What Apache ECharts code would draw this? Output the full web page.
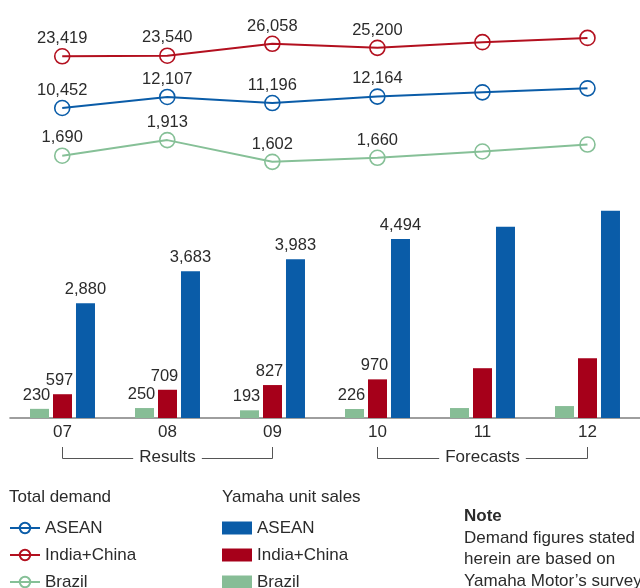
<!DOCTYPE html>
<html>
<head>
<meta charset="utf-8">
<script src="https://cdn.jsdelivr.net/npm/echarts@6/dist/echarts.min.js"></script>
<style>
  html, body { margin: 0; padding: 0; background: #fff; }
  #chart { width: 640px; height: 588px; }
</style>
</head>
<body>
<div id="chart"></div>
<script>
// ---- data ----
const categories = ['07', '08', '09', '10', '11', '12'];
const demandASEAN = [10452, 12107, 11196, 12164, 12800, 13400];
const demandIndiaChina = [23419, 23540, 26058, 25200, 26400, 27300];
const demandBrazil = [1690, 1913, 1602, 1660, 1750, 1850];
const salesASEAN = [2880, 3683, 3983, 4494, 4800, 5200];
const salesIndiaChina = [597, 709, 827, 970, 1250, 1500];
const salesBrazil = [230, 250, 193, 226, 250, 300];
const labeledCount = 4;
const regionNames = ['ASEAN', 'India+China', 'Brazil'];
const periodLabels = ['Results', 'Forecasts'];
const noteLines = ['Demand figures stated', 'herein are based on', 'Yamaha Motor\u2019s survey'];

// ---- styles ----
const FONT = '"Liberation Sans", Arial, Helvetica, sans-serif';
const TXT = '#2b2b2b';
const FS = 17;        // general text size
const FS_VAL = 16.5;  // value label size
const C_BLUE = '#0a5ca8';
const C_RED_LINE = '#b3101f';
const C_RED = '#a6001a';
const C_GREEN_LINE = '#86c097';
const C_GREEN = '#87bd96';

const fmt = v => Number(v).toLocaleString('en-US');
const lineLabel = {
  show: true, position: 'top', distance: 1, color: TXT, fontSize: FS_VAL, fontFamily: FONT,
  formatter: p => p.dataIndex < labeledCount ? fmt(p.value) : ''
};
const barLabel = (dx) => ({
  show: true, position: 'top', distance: 5, color: TXT, fontSize: FS_VAL, fontFamily: FONT,
  offset: [dx, 0],
  formatter: p => p.dataIndex < labeledCount ? fmt(p.value) : ''
});

function lineSeries(name, data, color, yIdx) {
  return {
    type: 'line', name: 'demand:' + name, data: data,
    xAxisIndex: 0, yAxisIndex: yIdx,
    symbol: 'circle', symbolSize: 15,
    lineStyle: { color: color, width: 2 },
    itemStyle: { color: 'rgba(255,255,255,0)', borderColor: color, borderWidth: 1.6 },
    label: lineLabel,
    emphasis: { disabled: true },
    z: 3
  };
}
function barSeries(name, data, color, dx) {
  return {
    type: 'bar', name: 'sales:' + name, data: data,
    xAxisIndex: 1, yAxisIndex: 3,
    barWidth: 19, barGap: '21%',
    itemStyle: { color: color },
    label: barLabel(dx),
    emphasis: { disabled: true }
  };
}

const chart = echarts.init(document.getElementById('chart'), null, { renderer: 'canvas' });
const legendCommon = {
  orient: 'vertical', top: 519.5, height: 100, padding: 0, itemGap: 10,
  itemWidth: 30, itemHeight: 13,
  formatter: n => n.split(':')[1],
  textStyle: { color: TXT, fontSize: FS, fontFamily: FONT },
  selectedMode: false
};
const option = {
  animation: false,
  textStyle: { fontFamily: FONT },
  grid: [
    { left: 9.7, width: 636, top: 0, height: 200 },
    { left: 10, width: 638, top: 179, height: 239 }
  ],
  xAxis: [
    { type: 'category', data: categories, gridIndex: 0, show: false },
    {
      type: 'category', data: categories, gridIndex: 1,
      axisLine: { lineStyle: { color: '#7f7f7f', width: 1.6 } },
      axisTick: { show: false },
      axisLabel: { color: TXT, fontSize: FS, fontFamily: FONT, margin: 6 }
    }
  ],
  yAxis: [
    { type: 'value', gridIndex: 0, min: -3348, max: 26652, show: false },
    { type: 'value', gridIndex: 0, min: -6902, max: 35298, show: false },
    { type: 'value', gridIndex: 0, min: 1056.5, max: 3916.5, show: false },
    { type: 'value', gridIndex: 1, min: 0, max: 6000, show: false }
  ],
  legend: [
    Object.assign({}, legendCommon, {
      left: 9,
      data: regionNames.map(n => 'demand:' + n)
    }),
    Object.assign({}, legendCommon, {
      left: 222, icon: 'rect',
      data: regionNames.map(n => 'sales:' + n)
    })
  ],
  series: [
    lineSeries('ASEAN', demandASEAN, C_BLUE, 0),
    lineSeries('India+China', demandIndiaChina, C_RED_LINE, 1),
    lineSeries('Brazil', demandBrazil, C_GREEN_LINE, 2),
    barSeries('Brazil', salesBrazil, C_GREEN, -3),
    barSeries('India+China', salesIndiaChina, C_RED, -3),
    barSeries('ASEAN', salesASEAN, C_BLUE, 0)
  ]
};
chart.setOption(option);

// ---- annotations: brackets, legend titles, note ----
const px = c => chart.convertToPixel({ xAxisIndex: 1 }, c);
const groups = [[categories[0], categories[2], periodLabels[0]], [categories[3], categories[5], periodLabels[1]]];
const graphics = [];
const font = (w) => (w ? w + ' ' : '') + FS + 'px ' + FONT;
groups.forEach(([a, b, label]) => {
  const x1 = Math.round(px(a)) - 0.5, x2 = Math.round(px(b)) - 0.5;
  graphics.push({
    type: 'polyline', silent: true,
    shape: { points: [[x1, 447], [x1, 458.5], [x2, 458.5], [x2, 447]] },
    style: { stroke: '#555', lineWidth: 1, fill: null }
  });
  graphics.push({
    type: 'text', silent: true, x: (x1 + x2) / 2, y: 457.5,
    style: {
      text: label, font: font(), fill: TXT, align: 'center', verticalAlign: 'middle',
      backgroundColor: '#fff', padding: [0, 6]
    }
  });
});
graphics.push({ type: 'text', x: 9, y: 497, style: { text: 'Total demand', font: font(), fill: TXT, verticalAlign: 'middle' } });
graphics.push({ type: 'text', x: 222, y: 497, style: { text: 'Yamaha unit sales', font: font(), fill: TXT, verticalAlign: 'middle' } });
graphics.push({ type: 'text', x: 464, y: 516, style: { text: 'Note', font: font('bold'), fill: TXT, verticalAlign: 'middle' } });
noteLines.forEach((t, i) => {
  graphics.push({ type: 'text', x: 464, y: 538 + i * 21.5, style: { text: t, font: font(), fill: TXT, verticalAlign: 'middle' } });
});
chart.setOption({ graphic: graphics });
</script>
</body>
</html>
